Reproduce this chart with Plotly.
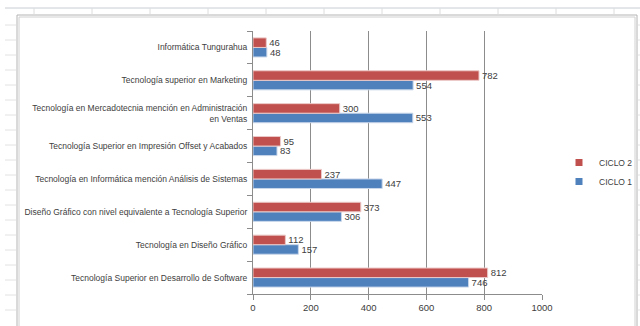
import plotly.graph_objects as go

categories = [
    "Tecnología Superior en Desarrollo de Software",
    "Tecnología en Diseño Gráfico",
    "Diseño Gráfico con nivel equivalente a Tecnología Superior",
    "Tecnología en Informática mención Análisis de Sistemas",
    "Tecnología Superior en Impresión Offset y Acabados",
    "Tecnología en Mercadotecnia mención en Administración<br>en Ventas",
    "Tecnología superior en Marketing",
    "Informática Tungurahua",
]
ciclo1 = [746, 157, 306, 447, 83, 553, 554, 48]
ciclo2 = [812, 112, 373, 237, 95, 300, 782, 46]
x_ticks = [0, 200, 400, 600, 800, 1000]

W, H = 640, 326
L, R, T, B = 253, 98, 31, 32
PW, PH = W - L - R, H - T - B


def px(x):
    return (x - L) / PW


def py(y):
    return (H - B - y) / PH


FONT = "Liberation Sans, Arial"
TXT = "#404040"
BLUE, RED = "#4F81BD", "#C0504D"

fig = go.Figure()
fig.add_trace(go.Bar(
    y=categories, x=ciclo1, name="CICLO 1", orientation="h", legendgroup="c1",
    showlegend=False,
    marker=dict(color=BLUE, line=dict(color="#c9d7ea", width=1)),
    text=ciclo1, textposition="outside", cliponaxis=False,
    textfont=dict(size=9.5, color=TXT, family=FONT), constraintext="none",
))
fig.add_trace(go.Bar(
    y=categories, x=ciclo2, name="CICLO 2", orientation="h", legendgroup="c2",
    showlegend=False,
    marker=dict(color=RED, line=dict(color="#ebc9c8", width=1)),
    text=ciclo2, textposition="outside", cliponaxis=False,
    textfont=dict(size=9.5, color=TXT, family=FONT), constraintext="none",
))
# legend entries with small square keys
for name, color, grp in [("CICLO 1", BLUE, "c1"), ("CICLO 2", RED, "c2")]:
    fig.add_trace(go.Scatter(
        x=[None], y=[None], mode="markers", name=name, legendgroup=grp,
        marker=dict(symbol="square", size=7, color=color), hoverinfo="skip",
    ))

shapes = []
# spreadsheet background lines
shapes.append(dict(type="line", xref="paper", yref="paper",
                   x0=px(5), x1=px(640), y0=py(8), y1=py(8),
                   line=dict(color="#c8cdd4", width=1), layer="below"))
for cx in [34, 92, 150, 208, 266, 324, 382, 440, 498, 556, 614]:
    shapes.append(dict(type="line", xref="paper", yref="paper",
                       x0=px(cx), x1=px(cx), y0=py(8), y1=py(14),
                       line=dict(color="#dcdcdc", width=1), layer="below"))
for ry in [25, 40, 55, 70, 85, 100, 115, 130, 145, 160, 175, 190, 205, 220, 235, 250, 265, 280, 295, 310]:
    shapes.append(dict(type="line", xref="paper", yref="paper",
                       x0=px(5), x1=px(16), y0=py(ry), y1=py(ry),
                       line=dict(color="#e2e2e2", width=1), layer="below"))
    shapes.append(dict(type="line", xref="paper", yref="paper",
                       x0=px(638), x1=px(640), y0=py(ry), y1=py(ry),
                       line=dict(color="#e2e2e2", width=1), layer="below"))
# chart area frame
shapes.append(dict(type="rect", xref="paper", yref="paper",
                   x0=px(17), x1=px(637), y0=py(15), y1=py(330),
                   line=dict(color="#b4b4b4", width=1), fillcolor="white", layer="below"))
shapes.append(dict(type="rect", xref="paper", yref="paper",
                   x0=px(19), x1=px(635), y0=py(17), y1=py(330),
                   line=dict(color="#d0d0d0", width=1), layer="below"))

fig.update_layout(
    width=W, height=H,
    margin=dict(l=L, r=R, t=T, b=B, autoexpand=False),
    paper_bgcolor="white", plot_bgcolor="rgba(0,0,0,0)",
    barmode="group", bargap=0.42, bargroupgap=0.0,
    font=dict(family=FONT, size=10, color=TXT),
    showlegend=True,
    legend=dict(x=px(559), y=py(148), xanchor="left", yanchor="top",
                traceorder="reversed", font=dict(size=8.5, color=TXT, family=FONT),
                bgcolor="rgba(0,0,0,0)", itemwidth=30, tracegroupgap=0),
    shapes=shapes,
    xaxis=dict(range=[0, 1000], tickvals=x_ticks, ticktext=[str(v) for v in x_ticks],
               showgrid=True, gridcolor="#8c8c8c", gridwidth=1,
               showline=True, linecolor="#8c8c8c", ticks="outside", ticklen=5,
               tickcolor="#8c8c8c", zeroline=False, fixedrange=True, automargin=False,
               tickfont=dict(size=9.5, color=TXT, family=FONT)),
    yaxis=dict(type="category", categoryorder="array", categoryarray=categories,
               showline=True, linecolor="#8c8c8c", ticks="outside", ticklen=5,
               tickcolor="#8c8c8c", tickson="boundaries", showgrid=False,
               ticklabelstandoff=3, automargin=False,
               tickfont=dict(size=8.5, color=TXT, family=FONT)),
)

fig.write_html("out.html")
